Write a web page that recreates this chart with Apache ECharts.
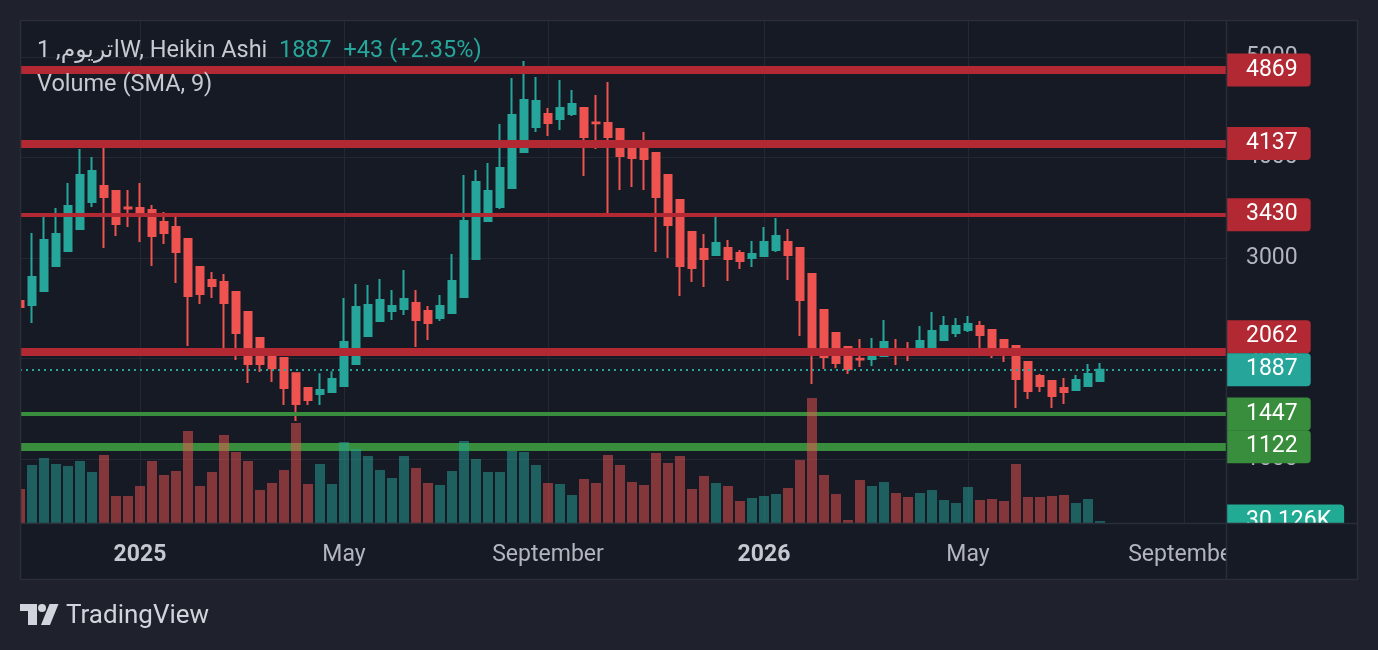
<!DOCTYPE html>
<html>
<head>
<meta charset="utf-8">
<script src="https://cdn.jsdelivr.net/npm/echarts@6/dist/echarts.min.js"></script>
<style>
html,body{margin:0;padding:0;background:#1f222d;}
#c{width:1378px;height:650px;}
</style>
</head>
<body>
<div id="c"></div>
<script>
// ---------------- DATA ----------------
const symbolTitle = 'اتريوم, 1W, Heikin Ashi';
const headerPrice = '1887';
const headerChange = '+43 (+2.35%)';
const volumeTitle = 'Volume (SMA, 9)';
const brandName = 'TradingView';

const firstWeek = '2024-10-28';
const weekCount = 101;
const monthNames = ['January','February','March','April','May','June','July','August','September','October','November','December'];

const opens = [2571,2530,2670,2918,3068,3287,3555,3714,3665,3500,
  3495,3476,3356,3306,3187,2908,2779,2759,2660,2461,
  2202,2082,2003,1853,1705,1645,1665,1725,1943,2222,
  2372,2471,2491,2551,2471,2402,2451,2610,2988,3366,
  3505,3695,4053,4302,4431,4381,4431,4491,4347,4342,
  4282,4153,4083,4043,3824,3575,3257,3088,3028,3098,
  3048,2998,3018,3078,3157,3098,2839,2481,2252,2112,
  1996,1993,2023,2093,2056,2053,2103,2182,2252,2282,
  2322,2282,2182,2122,1964,1824,1774,1705,1685,1725,1774];
const closes = [2511,2809,3177,3237,3515,3824,3864,3605,3336,3492,
  3436,3217,3247,3058,2620,2640,2719,2550,2252,1943,
  1943,1903,1705,1546,1585,1685,1794,2162,2511,2531,
  2581,2521,2591,2382,2352,2521,2769,3366,3754,3665,
  3893,4421,4570,4560,4342,4491,4530,4202,4338,4202,
  4013,3993,3983,3605,3326,2918,2899,2988,3148,2988,
  2968,3038,3157,3217,3028,2581,2112,2013,1953,1894,
  1990,2063,2162,2033,2050,2172,2272,2322,2322,2342,
  2232,2083,2043,1794,1675,1725,1625,1665,1784,1844,1887];
const lows = [2412,2351,2670,2918,3068,3287,3505,3097,3217,3306,
  3157,2918,3137,2749,2122,2540,2600,2072,1983,1754,
  1864,1764,1535,1376,1535,1535,1665,1725,1943,2222,
  2372,2382,2431,2112,2182,2372,2451,2610,2988,3356,
  3485,3695,4053,4252,4212,4272,4411,3814,4083,3436,
  3675,3705,3675,3058,2998,2620,2759,2710,3018,2769,
  2889,2908,3018,3058,2779,2222,1745,1894,1903,1845,
  1914,1923,2023,1933,1973,2053,2103,2182,2212,2262,
  2093,2003,1964,1506,1596,1665,1506,1546,1685,1725,1774];
const highs = [2720,3247,3436,3495,3744,4083,4003,4103,3665,3675,
  3744,3525,3456,3436,3187,2908,2859,2839,2660,2461,
  2202,2102,2003,1853,1705,1853,1873,2600,2740,2730,
  2789,2680,2879,2680,2521,2630,3038,3824,3874,3943,
  4332,4789,4958,4799,4491,4769,4670,4491,4620,4749,
  4292,4172,4252,4043,3824,3575,3257,3237,3446,3177,
  3078,3167,3306,3396,3287,3098,2839,2481,2252,2112,
  2192,2202,2382,2192,2162,2322,2461,2421,2401,2421,
  2372,2282,2182,2122,1964,1844,1774,1804,1834,1943,1953];
// volume in thousands
const volumesK = [510,870,975,885,855,930,765,1020,405,405,
  555,930,720,780,1380,555,765,1320,1065,930,
  495,600,795,1500,585,885,585,1215,1110,1005,
  795,675,1005,825,600,570,780,1230,960,765,
  765,1080,1065,870,600,585,420,660,600,1020,
  870,615,570,1050,900,1005,510,705,600,555,
  330,375,405,435,525,945,1875,720,435,45,
  645,555,615,450,390,450,495,345,300,540,
  345,360,330,885,390,390,405,420,300,360,30.126];
const levels = [4869, 4137, 3430, 2062, 1447, 1122];

const priceMin = 1000, priceMax = 6000, priceStep = 1000;
const volAxisMax = 7545;

// ---------------- STYLE / LAYOUT ----------------
const UP = '#26a69a', DOWN = '#ef5350';
const RES = '#b22833', SUP = '#388e3c';
const VOL_UP = 'rgba(38,166,154,0.5)', VOL_DOWN = 'rgba(239,83,80,0.5)';
const plotBg = '#161a25', outerBg = '#1f222d', gridCol = '#242833', frameCol = '#2a2e39';
const font = 'Roboto, "DejaVu Sans", "Noto Sans", sans-serif';
const levelWidths = [8, 8, 4, 8, 4, 8];

const BAND = 12;
const gridLeft = 14;
const gridWidth = weekCount * BAND;
const priceGridTop = -43.7, priceGridHeight = 502.6;
const pxPerUnit = priceGridHeight / (priceMax - priceMin);
const boxH = 33;

// categories (weekly dates)
const weeks = [];
(function () {
  const start = new Date(firstWeek + 'T00:00:00Z').getTime();
  for (let i = 0; i < weekCount; i++) {
    weeks.push(new Date(start + i * 7 * 86400000).toISOString().slice(0, 10));
  }
})();
function monthOf(i) { return +weeks[i].slice(5, 7) - 1; }
function isTick(i) {
  if (i <= 0) return false;
  const m = monthOf(i);
  return m !== monthOf(i - 1) && m % 4 === 0;
}

const candleData = opens.map((o, i) => [o, closes[i], lows[i], highs[i]]);
const lastClose = closes[closes.length - 1];
const lastVol = volumesK[volumesK.length - 1];
const volData = volumesK.map((v, i) => ({
  value: v,
  itemStyle: { color: closes[i] >= opens[i] ? VOL_UP : VOL_DOWN }
}));

function boxLabel(text, color, lift) {
  return {
    show: true, position: 'end', distance: 0, opacity: 1,
    formatter: lift > 0 ? '{a|' + text + '}\n{g| }' : '{a|' + text + '}',
    rich: {
      a: { color: '#ffffff', fontSize: 23, fontFamily: font, backgroundColor: color,
           padding: [5, 13, 5, 20], borderRadius: [0, 4, 4, 0], opacity: 1 },
      g: { fontSize: 8, lineHeight: Math.max(lift, 1) }
    }
  };
}

const levelLines = levels.map((lv, k) => {
  const col = lv > lastClose ? RES : SUP;
  const gap = (lv - lastClose) * pxPerUnit;
  const lift = (lv > lastClose && gap < boxH) ? 2 * (boxH - gap) : 0;
  return { yAxis: lv, lineStyle: { color: col, width: levelWidths[k], type: 'solid', opacity: 1 },
           label: boxLabel(String(lv), col, lift) };
});
levelLines.push({ yAxis: lastClose, lineStyle: { color: UP, width: 2, type: [2, 4], opacity: 1 },
                  label: boxLabel(String(lastClose), UP, 0) });

const chart = echarts.init(document.getElementById('c'), null, { renderer: 'canvas' });

const option = {
  animation: false,
  backgroundColor: outerBg,
  textStyle: { fontFamily: font },
  grid: [
    { left: gridLeft, top: priceGridTop, width: gridWidth, height: priceGridHeight, containLabel: false, outerBoundsMode: 'none' },
    { left: gridLeft, top: 20, width: gridWidth, height: 503, containLabel: false, outerBoundsMode: 'none' },
    { left: gridLeft, top: 523, width: gridWidth, height: 1, containLabel: false, outerBoundsMode: 'none' }
  ],
  xAxis: [
    { type: 'category', gridIndex: 0, data: weeks, boundaryGap: true, show: false },
    { type: 'category', gridIndex: 1, data: weeks, boundaryGap: true,
      axisLine: { show: false }, axisLabel: { show: false },
      axisTick: { show: true, inside: true, length: 503, alignWithLabel: true,
                  interval: (i) => isTick(i), lineStyle: { color: gridCol, width: 1 } },
      splitLine: { show: false } },
    { type: 'category', gridIndex: 2, data: weeks, boundaryGap: true, z: 60,
      axisLine: { show: false }, axisTick: { show: false }, splitLine: { show: false },
      axisLabel: {
        show: true, interval: (i) => isTick(i), margin: 20,
        formatter: (val) => {
          const m = +val.slice(5, 7) - 1;
          return m === 0 ? '{y|' + val.slice(0, 4) + '}' : '{m|' + monthNames[m] + '}';
        },
        rich: {
          y: { fontSize: 23, fontWeight: 'bold', color: '#c5c8d0', fontFamily: font },
          m: { fontSize: 23, color: '#b2b5be', fontFamily: font }
        }
      } }
  ],
  yAxis: [
    { type: 'value', gridIndex: 0, position: 'right', min: priceMin, max: priceMax, interval: priceStep,
      axisLine: { show: false }, axisTick: { show: false },
      axisLabel: { color: '#b2b5be', fontSize: 23, margin: 20, fontFamily: font,
                   formatter: (v) => String(v) },
      splitLine: { show: true, lineStyle: { color: gridCol, width: 1 } } },
    { type: 'value', gridIndex: 1, min: 0, max: volAxisMax, show: false, splitLine: { show: false } },
    { type: 'value', gridIndex: 2, min: 0, max: 1, show: false, splitLine: { show: false } }
  ],
  series: [
    {
      type: 'candlestick', xAxisIndex: 0, yAxisIndex: 0, data: candleData,
      barWidth: 8, clip: true,
      itemStyle: { color: UP, color0: DOWN, borderColor: UP, borderColor0: DOWN, borderWidth: 2 },
      markLine: { silent: true, symbol: ['none', 'none'], animation: false, z: 5,
                  emphasis: { disabled: true }, data: levelLines }
    },
    {
      type: 'bar', xAxisIndex: 1, yAxisIndex: 1, data: volData, barWidth: 10, z: 6,
      markLine: { silent: true, symbol: ['none', 'none'], animation: false,
                  emphasis: { disabled: true },
                  data: [{ yAxis: lastVol, lineStyle: { color: 'rgba(0,0,0,0)', width: 0, opacity: 1 },
                           label: boxLabel(lastVol.toFixed(3) + 'K', '#22ab94', 0) }] }
    }
  ],
  graphic: [
    { type: 'rect', z: -10, silent: true, shape: { x: 20, y: 20, width: 1338, height: 560 }, style: { fill: plotBg } },
    // time-axis strip and left edge masks
    { type: 'rect', z: 55, silent: true, shape: { x: 20, y: 523.5, width: 1338, height: 56.5 }, style: { fill: plotBg } },
    { type: 'rect', z: 55, silent: true, shape: { x: 0, y: 0, width: 20, height: 650 }, style: { fill: outerBg } },
    { type: 'rect', z: 65, silent: true, shape: { x: 1226.5, y: 524, width: 131.5, height: 56 }, style: { fill: plotBg } },
    // borders
    { type: 'rect', z: 70, silent: true, shape: { x: 20.5, y: 20.5, width: 1337, height: 559 }, style: { fill: 'none', stroke: frameCol, lineWidth: 1.5 } },
    { type: 'line', z: 70, silent: true, shape: { x1: 1226.5, y1: 20, x2: 1226.5, y2: 580 }, style: { stroke: frameCol, lineWidth: 1.5 } },
    { type: 'line', z: 70, silent: true, shape: { x1: 20, y1: 523.5, x2: 1358, y2: 523.5 }, style: { stroke: frameCol, lineWidth: 1.5 } },
    // legend texts
    { type: 'text', z: 60, silent: true, x: 37, y: 51,
      style: { text: '{a|' + symbolTitle + '}{a|  }{b|' + headerPrice + '  ' + headerChange + '}',
               verticalAlign: 'middle', textVerticalAlign: 'middle', fontSize: 23.5, fontFamily: font,
               rich: { a: { fill: '#c7cad1', color: '#c7cad1', fontSize: 23.5, fontFamily: font },
                       b: { fill: '#26a69a', color: '#26a69a', fontSize: 23.5, fontFamily: font } } } },
    { type: 'text', z: 60, silent: true, x: 37, y: 85,
      style: { text: volumeTitle, fill: '#c7cad1', fontSize: 23.5, fontFamily: font,
               verticalAlign: 'middle', textVerticalAlign: 'middle' } },
    // brand
    { type: 'rect', z: 60, silent: true, shape: { x: 20, y: 604, width: 17, height: 7 }, style: { fill: '#d1d4dc' } },
    { type: 'rect', z: 60, silent: true, shape: { x: 28, y: 604, width: 9, height: 21 }, style: { fill: '#d1d4dc' } },
    { type: 'circle', z: 60, silent: true, shape: { cx: 42, cy: 608, r: 4 }, style: { fill: '#d1d4dc' } },
    { type: 'polygon', z: 60, silent: true, shape: { points: [[49.5, 604], [58.5, 604], [50, 625], [41, 625]] }, style: { fill: '#d1d4dc' } },
    { type: 'text', z: 60, silent: true, x: 66, y: 616,
      style: { text: brandName, fill: '#d1d4dc', fontSize: 26, fontFamily: font,
               verticalAlign: 'middle', textVerticalAlign: 'middle' } }
  ]
};
chart.setOption(option);
</script>
</body>
</html>
